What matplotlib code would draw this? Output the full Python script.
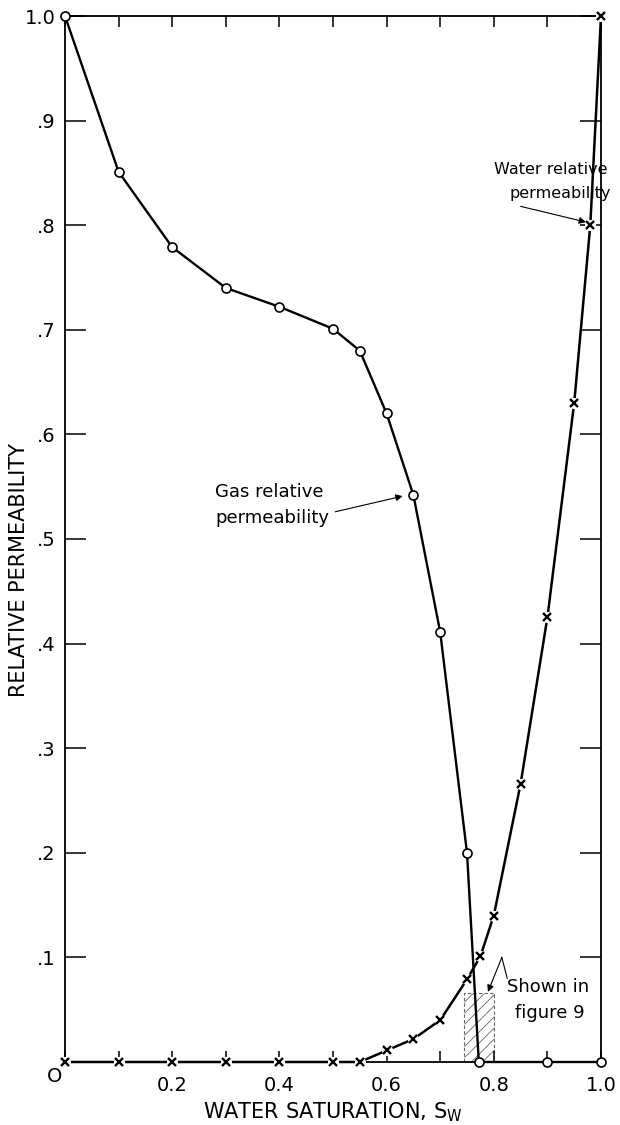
import matplotlib
matplotlib.use("Agg")
import matplotlib.pyplot as plt
from matplotlib.patches import Rectangle

# ---- data ----
gas_sw = [0.0, 0.1, 0.2, 0.3, 0.4, 0.5, 0.55, 0.6, 0.65, 0.7, 0.75, 0.772, 0.9, 1.0]
gas_kr = [1.0, 0.851, 0.779, 0.74, 0.722, 0.701, 0.68, 0.62, 0.542, 0.411, 0.2, 0.0, 0.0, 0.0]

water_sw = [0.0, 0.1, 0.2, 0.3, 0.4, 0.5, 0.55, 0.6, 0.65, 0.7, 0.75, 0.775, 0.8, 0.85, 0.9, 0.95, 0.98, 1.0]
water_kr = [0.0, 0.0, 0.0, 0.0, 0.0, 0.0, 0.0, 0.011, 0.022, 0.04, 0.079, 0.101, 0.14, 0.266, 0.425, 0.63, 0.80, 1.0]

x_ticks = [0.0, 0.1, 0.2, 0.3, 0.4, 0.5, 0.6, 0.7, 0.8, 0.9, 1.0]
x_tick_labels = ["", "", "0.2", "", "0.4", "", "0.6", "", "0.8", "", "1.0"]
y_ticks = [0.0, 0.1, 0.2, 0.3, 0.4, 0.5, 0.6, 0.7, 0.8, 0.9, 1.0]
y_tick_labels = ["", ".1", ".2", ".3", ".4", ".5", ".6", ".7", ".8", ".9", "1.0"]

box_sw = (0.745, 0.80)
box_kr_top = 0.066

plt.rcParams['font.family'] = ['DejaVu Sans']
plt.rcParams['hatch.linewidth'] = 0.6

fig = plt.figure(figsize=(6.2, 11.25), dpi=100)
ax = fig.add_axes([65 / 620, 1 - 1062 / 1125, (601 - 65) / 620, (1062 - 16) / 1125])
ax.set_xlim(0, 1)
ax.set_ylim(0, 1)

for s in ax.spines.values():
    s.set_linewidth(1.3)
    s.set_color('black')

# hatched box
ax.add_patch(Rectangle((box_sw[0], 0), box_sw[1] - box_sw[0], box_kr_top,
                       fill=False, hatch='///', edgecolor='#666666',
                       linestyle=(0, (3, 2)), linewidth=0.8, zorder=1.5))

# water curve with gaps around markers
ax.plot(water_sw, water_kr, color='black', lw=1.8, zorder=2, clip_on=False)
ax.plot(water_sw, water_kr, linestyle='none', marker='o', markersize=8,
        markerfacecolor='white', markeredgewidth=0, zorder=3, clip_on=False)
ax.plot(water_sw, water_kr, linestyle='none', marker='x', markersize=6,
        markeredgewidth=1.7, color='black', zorder=4, clip_on=False)

# gas curve
ax.plot(gas_sw, gas_kr, color='black', lw=1.7, zorder=5, clip_on=False,
        marker='o', markersize=6.5, markerfacecolor='white',
        markeredgecolor='black', markeredgewidth=1.2)

# ticks
ax.set_xticks(x_ticks)
ax.set_xticklabels(x_tick_labels)
ax.set_yticks(y_ticks)
ax.set_yticklabels(y_tick_labels)
ax.tick_params(axis='both', which='major', direction='in', labelsize=14, width=1.1)
ax.tick_params(axis='y', length=15, pad=7, left=True, right=True)
ax.tick_params(axis='x', length=8, pad=10, bottom=True, top=True)

ax.text(-0.019, -0.014, "O", ha='center', va='center', fontsize=14)

ax.set_xlabel("WATER SATURATION, S$_\\mathregular{W}$", fontsize=15, labelpad=4)
ax.set_ylabel("RELATIVE PERMEABILITY", fontsize=15, labelpad=4)
ax.yaxis.set_label_coords(-0.068, 0.47)

# annotations
ax.text(0.28, 0.545, "Gas relative", fontsize=13, ha='left', va='center')
ax.text(0.28, 0.52, "permeability", fontsize=13, ha='left', va='center')
ax.annotate("", xy=(0.630, 0.541), xytext=(0.504, 0.526),
            arrowprops=dict(arrowstyle='-|>', color='black', lw=0.8,
                            mutation_scale=10, shrinkA=0, shrinkB=0))

ax.text(0.80, 0.853, "Water relative", fontsize=11.5, ha='left', va='center')
ax.text(0.83, 0.830, "permeability", fontsize=11.5, ha='left', va='center')
ax.annotate("", xy=(0.972, 0.803), xytext=(0.85, 0.818),
            arrowprops=dict(arrowstyle='-|>', color='black', lw=0.8,
                            mutation_scale=10, shrinkA=0, shrinkB=0))

ax.text(0.825, 0.072, "Shown in", fontsize=13, ha='left', va='center')
ax.text(0.84, 0.047, "figure 9", fontsize=13, ha='left', va='center')
ax.plot([0.825, 0.815], [0.080, 0.100], color='black', lw=0.8)
ax.annotate("", xy=(0.789, 0.067), xytext=(0.815, 0.100),
            arrowprops=dict(arrowstyle='-|>', color='black', lw=0.8,
                            mutation_scale=10, shrinkA=0, shrinkB=0))

fig.savefig("out.png", dpi=100)
